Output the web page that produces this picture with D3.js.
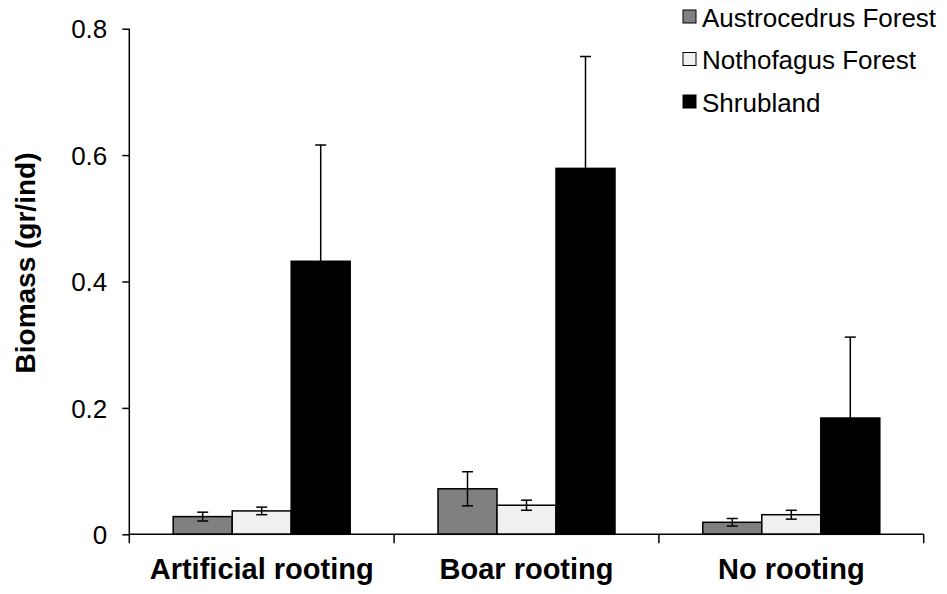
<!DOCTYPE html>
<html><head><meta charset="utf-8">
<script src="https://cdn.jsdelivr.net/npm/d3@7"></script>
<style>body{margin:0;background:#fff}svg{display:block}text{font-family:"Liberation Sans",Arial,sans-serif;fill:#000}</style>
</head><body>
<script>
const categories = ["Artificial rooting","Boar rooting","No rooting"];
const seriesNames = ["Austrocedrus Forest","Nothofagus Forest","Shrubland"];
const austrocedrus = [0.028, 0.072, 0.019];
const austrocedrusErr = [0.007, 0.027, 0.006];
const nothofagus = [0.037, 0.046, 0.031];
const nothofagusErr = [0.006, 0.008, 0.007];
const shrubland = [0.432, 0.579, 0.184];
const shrublandErr = [0.184, 0.177, 0.128];
const yTicks = [0, 0.2, 0.4, 0.6, 0.8];
const colors = ["#808080","#f0f0f0","#000000"];

const values = [austrocedrus, nothofagus, shrubland];
const errs = [austrocedrusErr, nothofagusErr, shrublandErr];
const data = [];
categories.forEach((c,i)=>seriesNames.forEach((s,j)=>data.push({c,s,j,v:values[j][i],e:errs[j][i]})));

const W=947,H=594;
const svg=d3.select("body").append("svg").attr("width",W).attr("height",H);
const x0=129.3, x1=923.7, yBot=534.3, yTop=28.7;
const y=d3.scaleLinear().domain([0,0.8]).range([yBot,yTop]);
const x=d3.scaleBand().domain(categories).range([x0,x1]).padding(0);
const barW=59;
const po=(x.bandwidth()/barW-3)/2;
const xs=d3.scaleBand().domain(seriesNames).range([0,x.bandwidth()]).paddingInner(0).paddingOuter(po);

// bars
const g=svg.append("g");
g.selectAll("rect.bar").data(data).join("rect")
 .attr("x",d=>x(d.c)+xs(d.s)).attr("width",xs.bandwidth())
 .attr("y",d=>y(d.v)).attr("height",d=>y(0)-y(d.v))
 .attr("fill",d=>colors[d.j]).attr("stroke","#000").attr("stroke-width",1.5);

// error bars
const cap=5.5;
const eg=g.selectAll("g.err").data(data).join("g").attr("stroke","#000").attr("stroke-width",1.5);
eg.append("line").attr("x1",d=>x(d.c)+xs(d.s)+xs.bandwidth()/2).attr("x2",d=>x(d.c)+xs(d.s)+xs.bandwidth()/2)
 .attr("y1",d=>y(d.v+d.e)).attr("y2",d=>y(d.j===2?d.v:d.v-d.e));
eg.append("line").attr("x1",d=>x(d.c)+xs(d.s)+xs.bandwidth()/2-cap).attr("x2",d=>x(d.c)+xs(d.s)+xs.bandwidth()/2+cap)
 .attr("y1",d=>y(d.v+d.e)).attr("y2",d=>y(d.v+d.e));
eg.filter(d=>d.j!==2).append("line").attr("x1",d=>x(d.c)+xs(d.s)+xs.bandwidth()/2-cap).attr("x2",d=>x(d.c)+xs(d.s)+xs.bandwidth()/2+cap)
 .attr("y1",d=>y(d.v-d.e)).attr("y2",d=>y(d.v-d.e));

// y axis
const ya=svg.append("g").attr("transform",`translate(${x0},0)`)
 .call(d3.axisLeft(y).tickValues(yTicks).tickSize(7).tickPadding(15).tickFormat(d=>d===0?"0":d3.format(".1f")(d)));
ya.select(".domain").attr("stroke-width",1.5).attr("d",`M0,${yTop}V${yBot+9}`);
ya.selectAll(".tick line").attr("stroke-width",1.5);
ya.selectAll(".tick text").attr("font-size",26).attr("font-family","Liberation Sans, Arial, sans-serif").attr("dy","0.35em");

// x axis
const xa=svg.append("g").attr("transform",`translate(0,${yBot})`)
 .call(d3.axisBottom(x).tickSize(0).tickPadding(36));
xa.select(".domain").attr("stroke-width",1.5).attr("d",`M${x0},0H${x1}`);
xa.selectAll(".tick text").attr("font-size",29).attr("font-weight","bold").attr("font-family","Liberation Sans, Arial, sans-serif").attr("dy",0).attr("y",44.5);
// category separator ticks
const seps=categories.map(c=>x(c)+x.bandwidth());
svg.append("g").selectAll("line").data(seps).join("line")
 .attr("x1",d=>d).attr("x2",d=>d).attr("y1",yBot).attr("y2",yBot+9).attr("stroke","#000").attr("stroke-width",1.5);

// y title
svg.append("text").attr("transform",`translate(35,263) rotate(-90)`).attr("text-anchor","middle")
 .attr("font-size",28).attr("font-weight","bold").text("Biomass (gr/ind)");

// legend
const lg=svg.append("g").selectAll("g").data(seriesNames).join("g")
 .attr("transform",(d,i)=>`translate(683,${10+i*42.5})`);
lg.append("rect").attr("width",13).attr("height",13).attr("fill",(d,i)=>colors[i]).attr("stroke","#000").attr("stroke-width",1);
lg.append("text").attr("x",19).attr("y",16.5).attr("font-size",26).text(d=>d);
</script>
</body></html>
